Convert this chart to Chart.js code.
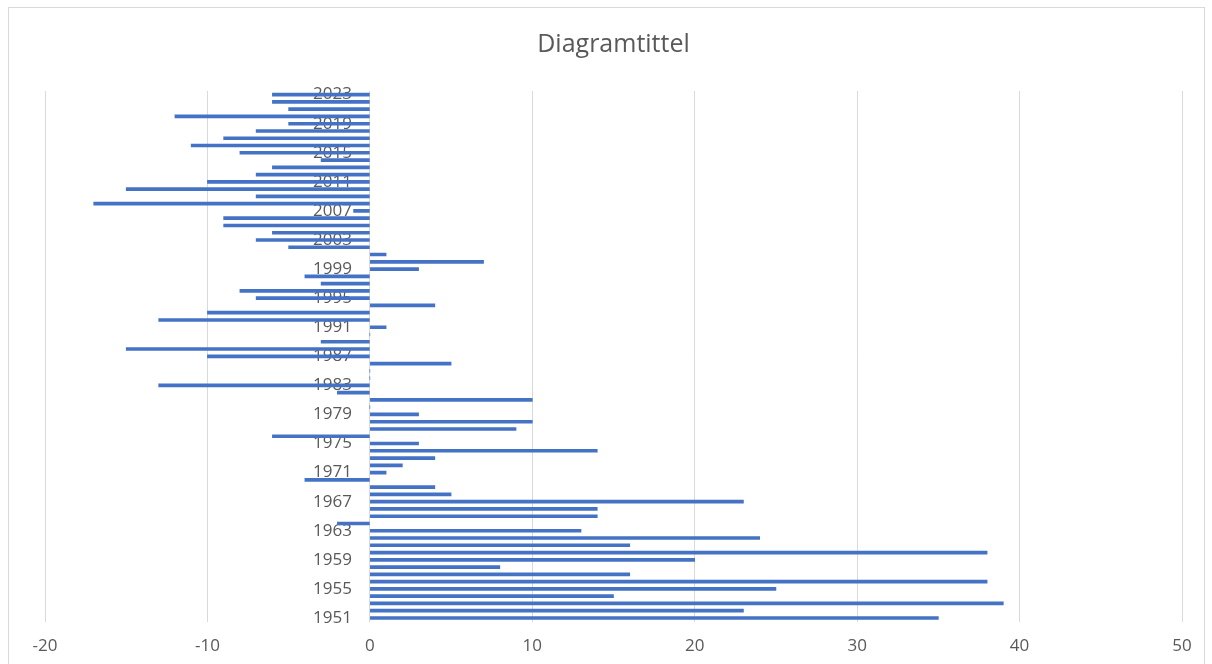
<!DOCTYPE html>
<html>
<head>
<meta charset="utf-8">
<script src="https://cdn.jsdelivr.net/npm/chart.js@4"></script>
<style>
    html, body { margin: 0; padding: 0; background: #fff; }
    #wrap { width: 1212px; height: 664px; }
</style>
</head>
<body>
<div id="wrap"><canvas id="chart" width="1212" height="664"></canvas></div>
<script>

// years from 1951 (bottom) to 2023 (top)
const years = [];
for (let y = 1951; y <= 2023; y++) {
    years.push(String(y));
}

const values = [
    35, 23, 39, 15, 25, 38, 16, 8, 20, 38,      // 1951-1960
    16, 24, 13, -2, 14, 14, 23, 5, 4, -4,       // 1961-1970
    1, 2, 4, 14, 3, -6, 9, 10, 3, 0,            // 1971-1980
    10, -2, -13, 0, 0, 5, -10, -15, -3, 0,      // 1981-1990
    1, -13, -10, 4, -7, -8, -3, -4, 3, 7,       // 1991-2000
    1, -5, -7, -6, -9, -9, -1, -17, -7, -15,    // 2001-2010
    -10, -7, -6, -3, -8, -11, -9, -7, -5, -12,  // 2011-2020
    -5, -6, -6                                  // 2021-2023
];

const xTicks = [-20, -10, 0, 10, 20, 30, 40, 50];
const labelEvery = 4;

const textColor = "#595959";
const gridColor = "#d9d9d9";
const fontFamily = "'Open Sans', 'Liberation Sans', sans-serif";

// year labels sit just left of the zero line (the 0 grid line acts as axis)
const yLabelAnchor = -1.1;

const frame = {
    id: "frame",
    beforeDraw(chart) {
        const ctx = chart.ctx;
        ctx.save();
        ctx.fillStyle = "#fff";
        ctx.fillRect(0, 0, chart.width, chart.height);
        ctx.strokeStyle = gridColor;
        ctx.lineWidth = 1;
        ctx.strokeRect(8.5, 7.5, 1196, 660);
        ctx.restore();
    }
};

const ctx = document.getElementById("chart");

new Chart(ctx, {

    type: "bar",

    data: {
        labels: years,
        datasets: [{
            data: values,
            backgroundColor: "#4472c4",
            borderWidth: 0,
            barThickness: 3
        }]
    },

    options: {
        indexAxis: "y",
        responsive: false,
        animation: false,
        layout: {
            padding: { left: 45, right: 30, top: 0, bottom: -6 }
        },

        plugins: {
            legend: { display: false },
            tooltip: { enabled: false },
            title: {
                display: true,
                text: "Diagramtittel",
                color: textColor,
                font: { family: fontFamily, size: 25, weight: "normal" },
                padding: { top: 30, bottom: 31 }
            }
        },

        scales: {

            x: {
                min: xTicks[0],
                max: xTicks[xTicks.length - 1],
                afterBuildTicks(scale) {
                    scale.ticks = xTicks.map(v => ({ value: v }));
                },
                grid: {
                    color: gridColor,
                    drawTicks: false
                },
                border: { display: false },
                ticks: {
                    color: textColor,
                    padding: 14,
                    font: { family: fontFamily, size: 17 }
                }
            },

            y: {
                position: { x: yLabelAnchor },
                reverse: true,
                grid: { display: false, drawTicks: false },
                border: { display: false },
                ticks: {
                    autoSkip: false,
                    color: textColor,
                    font: { family: fontFamily, size: 17 },
                    callback(value, index) {
                        return index % labelEvery === 0 ? this.getLabelForValue(value) : "";
                    }
                }
            }

        }

    },

    plugins: [frame]

});

</script>
</body>
</html>
